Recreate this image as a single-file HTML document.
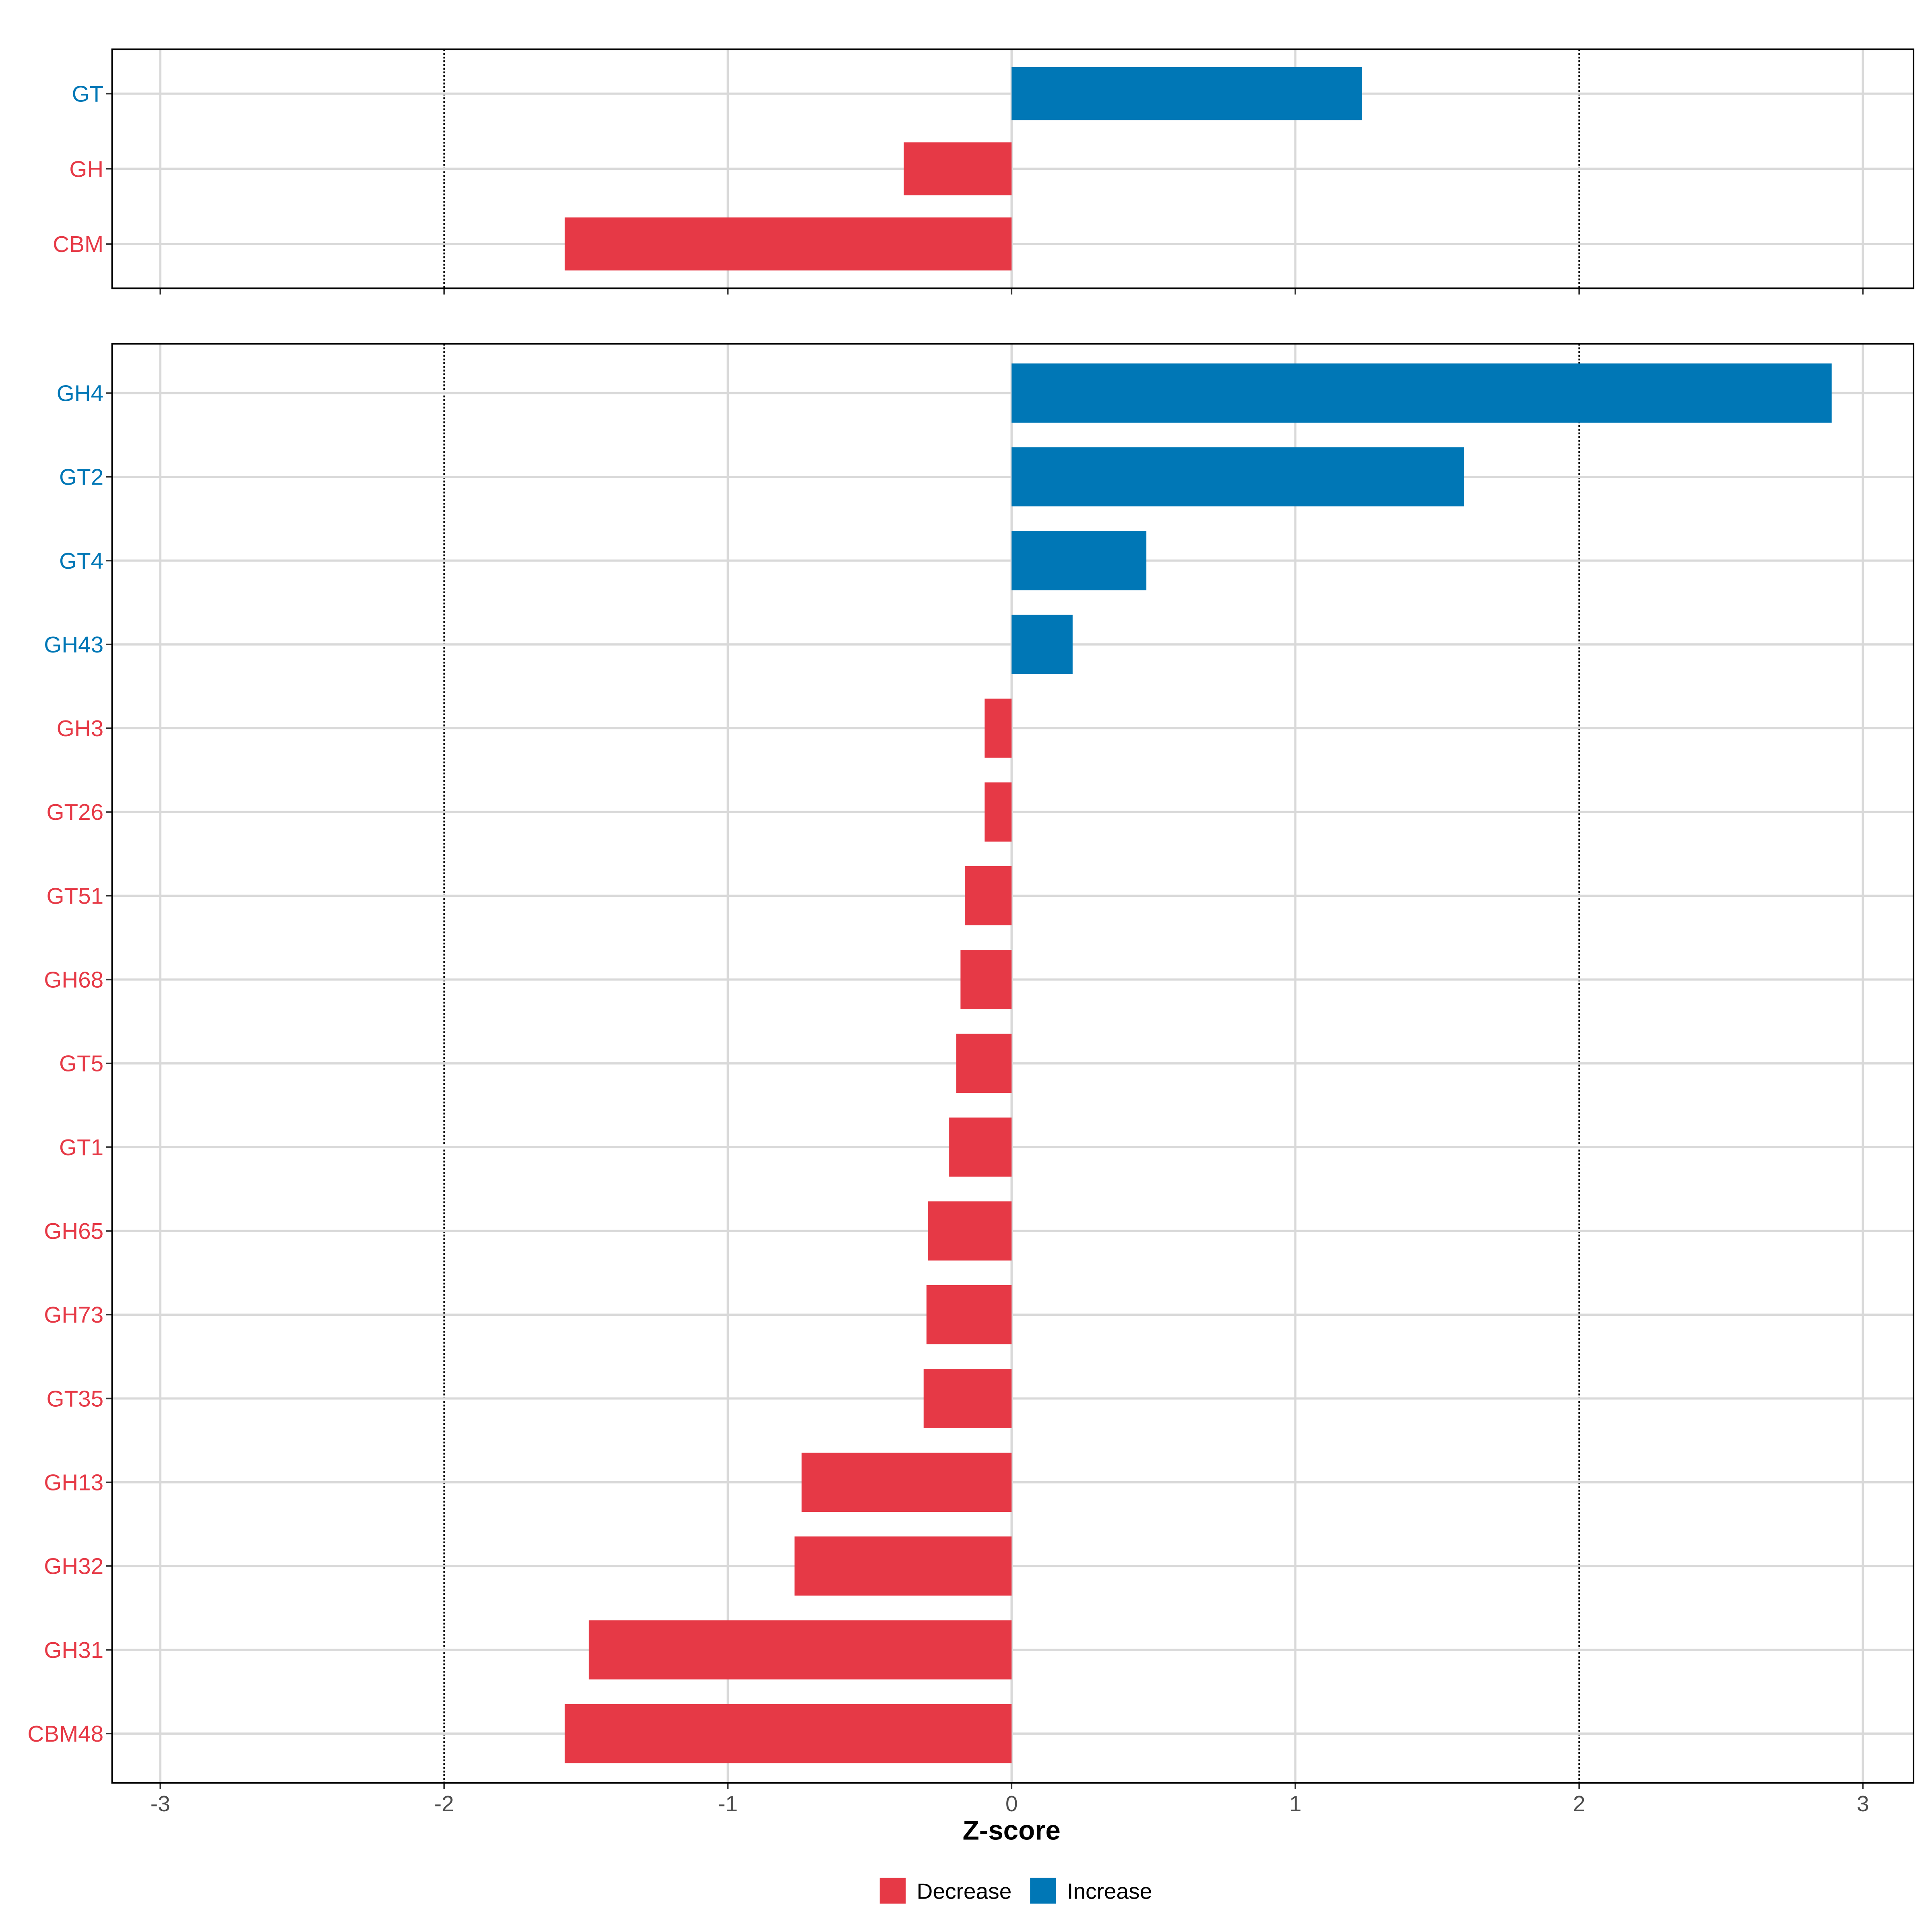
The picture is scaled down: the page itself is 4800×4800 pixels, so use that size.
<!DOCTYPE html>
<html><head><meta charset="utf-8"><style>html,body{margin:0;padding:0;background:#fff}svg{display:block}</style></head>
<body>
<svg id="chart" width="4800" height="4800" viewBox="0 0 1568 1568" xmlns="http://www.w3.org/2000/svg" font-family="Liberation Sans, sans-serif"></svg>
<script>
const topCats = ["GT","GH","CBM"];
const topVals = [1.235,-0.38,-1.575];
const botCats = ["GH4","GT2","GT4","GH43","GH3","GT26","GT51","GH68","GT5","GT1","GH65","GH73","GT35","GH13","GH32","GH31","CBM48"];
const botVals = [2.89,1.595,0.475,0.215,-0.095,-0.095,-0.165,-0.18,-0.195,-0.22,-0.295,-0.3,-0.31,-0.74,-0.765,-1.49,-1.575];
const xTicks = [-3,-2,-1,0,1,2,3];
const xTickLabels = ["-3","-2","-1","0","1","2","3"];

const NS="http://www.w3.org/2000/svg";
const svg=document.getElementById('chart');
const RED="#e63946", BLUE="#0077b6";
const X=v=>821+v*230.3;
function mk(tag,attrs,parent){const e=document.createElementNS(NS,tag);for(const k in attrs)e.setAttribute(k,attrs[k]);(parent||svg).appendChild(e);return e;}

function panel(name,cats,vals,y0,y1,first,step,bh,showX){
  const g=mk('g',{});
  
  
  const L=91,R=1553;
  xTicks.forEach((t,i)=>{
    const gl=mk('line',{x1:X(t),x2:X(t),y1:y0,y2:y1,stroke:Math.abs(t)===2?'#000':'#d9d9d9','stroke-width':Math.abs(t)===2?1.2:1.8,'stroke-dasharray':Math.abs(t)===2?'1.5,1.5':'none'},g);
    
    
    mk('line',{x1:X(t),x2:X(t),y1:y1,y2:y1+5,stroke:'#333','stroke-width':1.2},g);
    if(showX){
      const tl=mk('text',{x:X(t),y:y1+23,'text-anchor':'middle','font-size':18,fill:'#4d4d4d'},g);
      tl.textContent=xTickLabels[i];
      
      
    }
  });
  cats.forEach((c,i)=>{
    const y=first+i*step;
    mk('line',{x1:L,x2:R,y1:y,y2:y,stroke:'#d9d9d9','stroke-width':1.8},g);
    const col=vals[i]>=0?BLUE:RED;
    const b=mk('rect',{x:Math.min(X(0),X(vals[i])),y:y-bh/2,width:Math.abs(X(vals[i])-X(0)),height:bh,fill:col},g);
    
    
    mk('line',{x1:L-5,x2:L,y1:y,y2:y,stroke:'#333','stroke-width':1.2},g);
    const t=mk('text',{x:L-7,y:y+6.5,'text-anchor':'end','font-size':18.5,fill:col},g);
    t.textContent=c;
    
    
  });
  mk('rect',{x:L,y:y0,width:R-L,height:y1-y0,fill:'none',stroke:'#000','stroke-width':1.3},g);
}
panel('top-panel',topCats,topVals,40,234,76,61,43,false);
panel('bottom-panel',botCats,botVals,279,1447,319,68,48,true);

const tt=mk('text',{x:821,y:1493,'text-anchor':'middle','font-size':22,'font-weight':'bold',fill:'#000'});
tt.textContent='Z-score';



const lg=mk('g',{});


[[714,RED,'Decrease'],[836,BLUE,'Increase']].forEach(([x,c,l])=>{
  const r=mk('rect',{x:x,y:1524,width:21,height:21,fill:c},lg);
  
  
  const t=mk('text',{x:x+30,y:1541,'font-size':18,fill:'#000'},lg);
  t.textContent=l;
  
  
});
</script>
</body></html>
